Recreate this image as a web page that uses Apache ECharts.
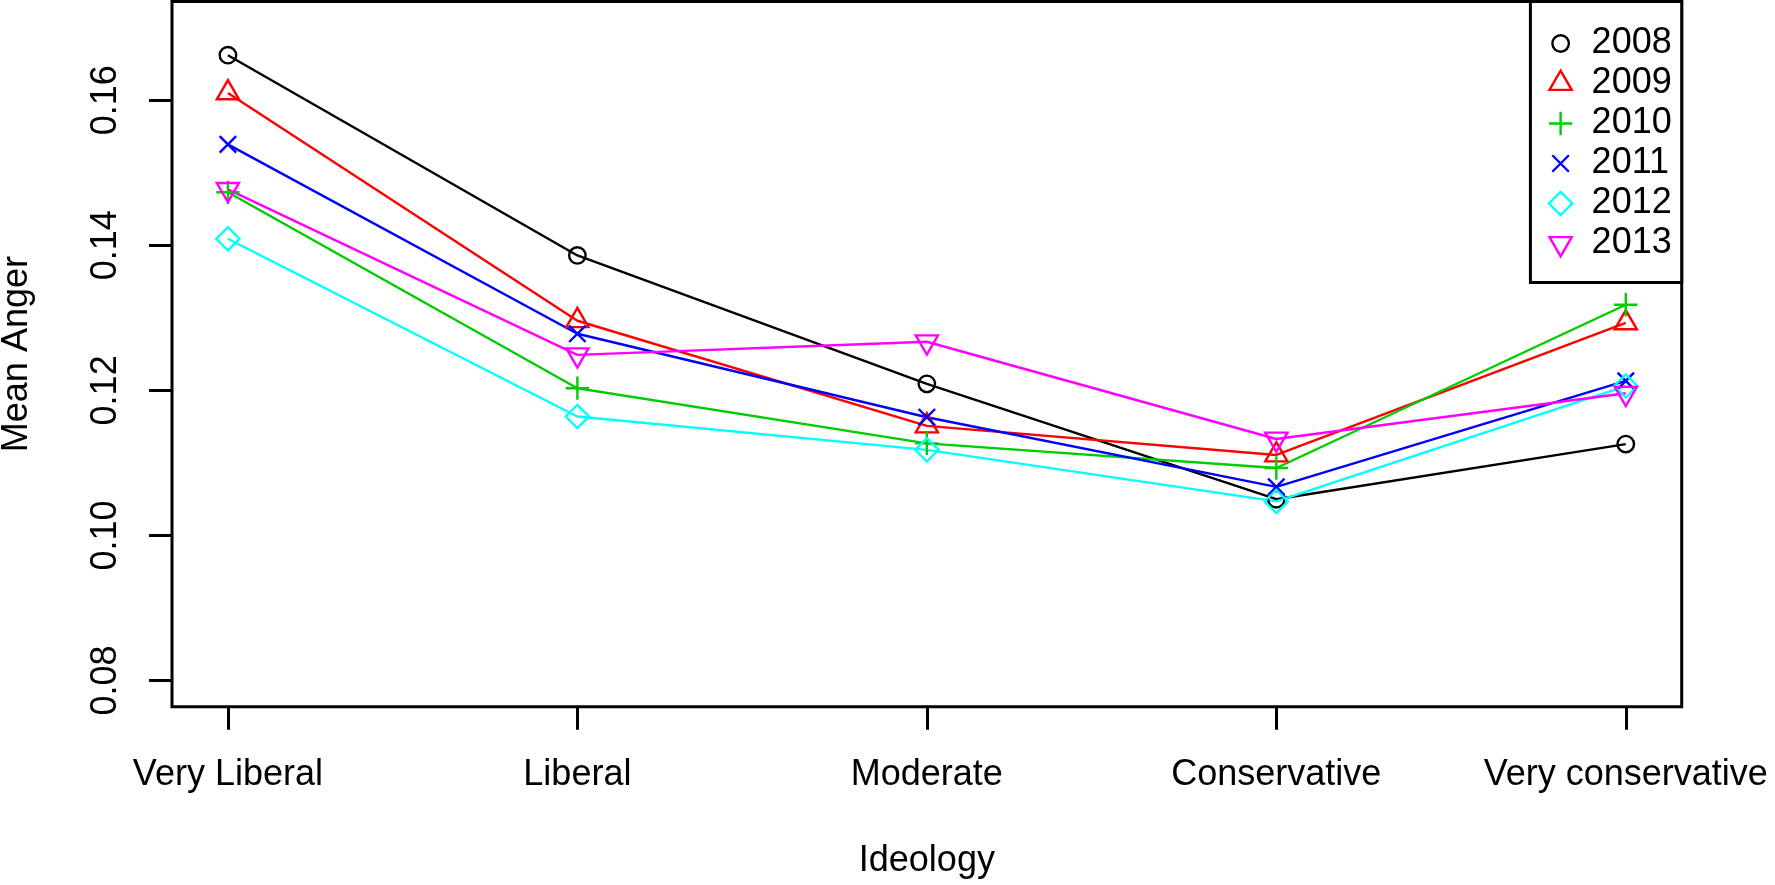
<!DOCTYPE html>
<html>
<head>
<meta charset="utf-8">
<script src="https://cdn.jsdelivr.net/npm/echarts@6/dist/echarts.min.js"></script>
<style>
html,body{margin:0;padding:0;background:#fff;}
#chart{width:1775px;height:885px;}
</style>
</head>
<body>
<div id="chart"></div>
<script>
// ---- data ----
const categories = ['Very Liberal', 'Liberal', 'Moderate', 'Conservative', 'Very conservative'];
const years = ['2008', '2009', '2010', '2011', '2012', '2013'];
const v2008 = [0.1662, 0.1386, 0.1209, 0.1050, 0.1126];
const v2009 = [0.1610, 0.1296, 0.1151, 0.1111, 0.1293];
const v2010 = [0.1473, 0.1203, 0.1127, 0.1093, 0.1318];
const v2011 = [0.1539, 0.1278, 0.1163, 0.1067, 0.1213];
const v2012 = [0.1409, 0.1164, 0.1118, 0.1047, 0.1206];
const v2013 = [0.1477, 0.1249, 0.1267, 0.1133, 0.1196];
const yTicks = [0.08, 0.10, 0.12, 0.14, 0.16];
const xTicks = [1, 2, 3, 4, 5];

// ---- styling ----
const FONT = "'Liberation Sans', Arial, sans-serif";
const colors = ['#000000', '#FF0000', '#00CD00', '#0000FF', '#00FFFF', '#FF00FF'];
const PAD = 'M-12,-12M12,12';
const shapes = [
  'path://' + PAD + 'M-7.6,0A7.6,7.6,0,1,1,7.6,0A7.6,7.6,0,1,1,-7.6,0Z',
  'path://' + PAD + 'M0,-11.82L10.24,5.91L-10.24,5.91Z',
  'path://' + PAD + 'M0,-10.75L0,10.75M-10.75,0L10.75,0',
  'path://' + PAD + 'M-7.6,-7.6L7.6,7.6M7.6,-7.6L-7.6,7.6',
  'path://' + PAD + 'M0,-10.75L10.75,0L0,10.75L-10.75,0Z',
  'path://' + PAD + 'M0,11.82L10.24,-5.91L-10.24,-5.91Z'
];
const values = [v2008, v2009, v2010, v2011, v2012, v2013];

const series = values.map((vals, k) => ({
  name: years[k],
  type: 'line',
  data: vals.map((y, i) => [xTicks[i], y]),
  symbol: shapes[k],
  symbolSize: 26,
  symbolKeepAspect: true,
  showSymbol: true,
  lineStyle: { color: colors[k], width: 2.4 },
  itemStyle: { color: 'rgba(0,0,0,0)', borderColor: colors[k], borderWidth: 2.4 },
  emphasis: { disabled: true },
  silent: true,
  animation: false
}));

const chart = echarts.init(document.getElementById('chart'), null, { renderer: 'canvas' });
chart.setOption({
  backgroundColor: '#ffffff',
  animation: false,
  grid: {
    left: 172, right: 93.3, top: 1.5, bottom: 178.3,
    show: true, borderColor: '#000', borderWidth: 3, backgroundColor: 'rgba(0,0,0,0)',
    containLabel: false, outerBoundsMode: 'none'
  },
  xAxis: {
    type: 'value', min: 0.84, max: 5.16,
    name: 'Ideology', nameLocation: 'middle', nameGap: 136,
    nameTextStyle: { fontSize: 36, fontFamily: FONT, color: '#000' },
    axisLine: { show: false },
    splitLine: { show: false },
    axisTick: { show: true, customValues: xTicks, length: 23, lineStyle: { color: '#000', width: 3 } },
    axisLabel: {
      show: true, customValues: xTicks, margin: 50,
      fontSize: 36, fontFamily: FONT, color: '#000',
      formatter: v => categories[Math.round(v) - 1] || ''
    }
  },
  yAxis: {
    type: 'value', min: 0.0764, max: 0.1736,
    name: 'Mean Anger', nameLocation: 'middle', nameGap: 137,
    nameTextStyle: { fontSize: 36, fontFamily: FONT, color: '#000' },
    axisLine: { show: false },
    splitLine: { show: false },
    axisTick: { show: true, customValues: yTicks, length: 23, lineStyle: { color: '#000', width: 3 } },
    axisLabel: {
      show: true, customValues: yTicks, rotate: 90, margin: 48,
      fontSize: 36, fontFamily: FONT, color: '#000',
      formatter: v => v.toFixed(2)
    }
  },
  legend: {
    orient: 'vertical', right: 93.3, top: 1.5,
    itemWidth: 26, itemHeight: 26, itemGap: 0,
    symbolKeepAspect: true,
    padding: [22, 10, 19, 16],
    borderColor: '#000', borderWidth: 3,
    backgroundColor: '#fff',
    selectedMode: false,
    textStyle: { fontSize: 36, fontFamily: FONT, color: '#000', lineHeight: 40, padding: [0, 0, 0, 13] },
    data: years.map((y, k) => ({
      name: y,
      icon: shapes[k],
      itemStyle: { color: 'rgba(0,0,0,0)', borderColor: colors[k], borderWidth: 2.4 }
    }))
  },
  series: series
});
</script>
</body>
</html>
